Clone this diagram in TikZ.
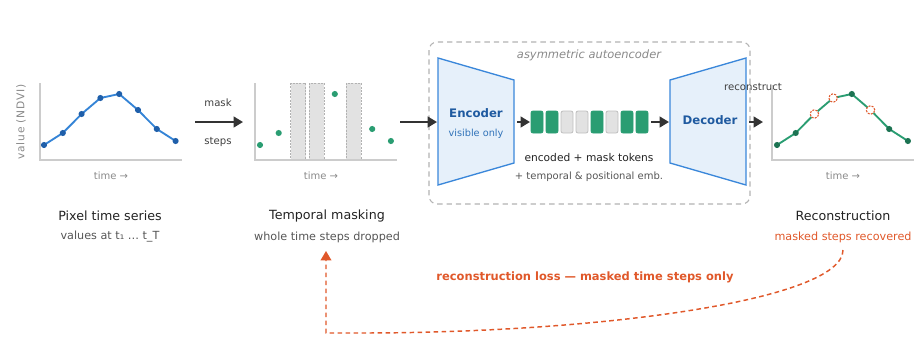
\documentclass[tikz,border=0pt]{standalone}
\usepackage{fontspec}
\setmainfont{DejaVu Sans}
\usetikzlibrary{arrows.meta}

\definecolor{ndviblue}{HTML}{3584D6}
\definecolor{dotblue}{HTML}{1F5FAA}
\definecolor{tokgreen}{HTML}{2A9D72}
\definecolor{dotgreen}{HTML}{1C7352}
\definecolor{lossorange}{HTML}{E0582A}
\definecolor{encfill}{HTML}{E6F0FA}
\definecolor{encedge}{HTML}{3A87DA}
\definecolor{enctext}{HTML}{1F5AA0}
\definecolor{axisgray}{HTML}{CCCCCC}
\definecolor{labelgray}{HTML}{8A8A8A}
\definecolor{maskgray}{HTML}{E2E2E2}
\definecolor{darktext}{HTML}{222222}
\definecolor{subtext}{HTML}{555555}

\begin{document}
\begin{tikzpicture}[x=0.75pt, y=-0.75pt, >={Triangle[length=7pt,width=8pt]},
    flow/.style={->, line width=1.5pt, draw=black!80},
    lossline/.style={->, lossorange, line width=1.1pt, dash pattern=on 3.5pt off 2.5pt},
    axisline/.style={axisgray, line width=0.8pt},
    caption/.style={text=darktext, font=\fontsize{9.5}{11}\selectfont},
    subcap/.style={text=subtext, font=\fontsize{8.4}{10}\selectfont},
    timelab/.style={text=labelgray, font=\fontsize{7.5}{9}\selectfont},
    smalllab/.style={text=black!75, font=\fontsize{7.6}{9}\selectfont},
    token/.style={rounded corners=1.5pt, line width=0.6pt},
    codec/.style={fill=encfill, draw=encedge, line width=1pt}]
  \useasboundingbox (0,0) rectangle (924,351);
  \def\ndvivals{145,133,114,98,94,110,129,141}

  % Pixel time series
  \draw[axisline] (40,83) -- (40,160) -- (182,160);
  \foreach \v [count=\i] in \ndvivals
    \coordinate (a\i) at ({44+18.8*(\i-1)},\v);
  \draw[ndviblue, line width=1.4pt] (a1) \foreach \i in {2,...,8} {-- (a\i)};
  \foreach \i in {1,...,8} \fill[dotblue] (a\i) circle (2.3pt);
  \node[rotate=90, text=labelgray, font=\fontsize{8}{9}\selectfont\addfontfeature{LetterSpace=8}] (ndvi) at (21,122) {value (NDVI)};
  \node[timelab] (time1) at (111,176) {time →};
  \node[caption] (seriescap) at (110,216) {Pixel time series};
  \node[subcap] (seriessub) at (110,237) {values at t₁ … t\_T};

  % mask step arrow
  \coordinate (s1out) at (195,122);
  \coordinate (s2in) at (243,122);
  \draw[flow] (s1out) -- (s2in);
  \node[smalllab] (masklab) at (218,103) {mask};
  \node[smalllab] (stepslab) at (218,142) {steps};

  % Temporal masking
  \foreach \c in {298,316.5,353.5}
    \draw[fill=maskgray, draw=black!30, line width=0.5pt, dash pattern=on 1.5pt off 1pt]
      ({\c-7.5},83) rectangle ({\c+7.5},160);
  \draw[axisline] (255,83) -- (255,160) -- (397,160);
  \foreach \v [count=\i] in \ndvivals
    \coordinate (m\i) at ({260+18.7*(\i-1)},\v);
  \foreach \i in {1,2,5,7,8} \fill[tokgreen] (m\i) circle (2.3pt);
  \node[timelab] (time2) at (321,176) {time →};
  \node[caption] (maskcap) at (327,216) {Temporal masking};
  \node[subcap] (masksub) at (327,237) {whole time steps dropped};

  % asymmetric autoencoder
  \draw[black!30, line width=0.8pt, dash pattern=on 4pt off 3pt, rounded corners=6pt]
    (429,42) rectangle (750,204);
  \node[text=labelgray, font=\fontsize{8.6}{10}\selectfont\itshape] (aelab) at (589,55) {asymmetric autoencoder};
  \coordinate (s2out) at (400,122);
  \coordinate (encin) at (437,122);
  \draw[flow] (s2out) -- (encin);

  \draw[codec] (438,58) -- (514,80) -- (514,163) -- (438,185) -- cycle;
  \node[text=enctext, font=\fontsize{8.8}{10}\selectfont\bfseries] (enc) at (476,113) {Encoder};
  \node[text=encedge!85!black, font=\fontsize{7.3}{9}\selectfont] (encsub) at (476,134) {visible only};

  % tokens
  \coordinate (encout) at (517,122);
  \coordinate (tokin) at (530,122);
  \draw[flow] (encout) -- (tokin);
  \foreach \k [count=\i] in {1,1,0,0,1,0,1,1} {
    \ifnum\k=1
      \draw[token, fill=tokgreen, draw=tokgreen] ({531+15*(\i-1)},111) rectangle ({543+15*(\i-1)},133);
    \else
      \draw[token, fill=maskgray, draw=black!25] ({531+15*(\i-1)},111) rectangle ({543+15*(\i-1)},133);
    \fi
  }
  \node[text=darktext, font=\fontsize{8}{9}\selectfont] (toklab) at (589,158) {encoded + mask tokens};
  \node[text=subtext, font=\fontsize{7.5}{9}\selectfont] (embl) at (589,177) {+ temporal \& positional emb.};

  \coordinate (tokout) at (651,122);
  \coordinate (decin) at (669,122);
  \draw[flow] (tokout) -- (decin);
  \draw[codec] (670,80) -- (746,58) -- (746,185) -- (670,163) -- cycle;
  \node[text=enctext, font=\fontsize{8.8}{10}\selectfont\bfseries] (dec) at (710,120) {Decoder};

  % Reconstruction
  \coordinate (decout) at (749,122);
  \coordinate (s4in) at (763,122);
  \draw[flow] (decout) -- (s4in);
  \node[smalllab] (reclab) at (753,87) {reconstruct};
  \draw[axisline] (772,85) -- (772,160) -- (914,160);
  \foreach \v [count=\i] in \ndvivals
    \coordinate (r\i) at ({777+18.7*(\i-1)},\v);
  \draw[tokgreen, line width=1.4pt] (r1) \foreach \i in {2,...,8} {-- (r\i)};
  \foreach \i in {1,2,5,7,8} \fill[dotgreen] (r\i) circle (2.3pt);
  \foreach \i in {3,4,6}
    \draw[fill=white, draw=lossorange, line width=0.8pt, dash pattern=on 1.5pt off 1pt] (r\i) circle (3.2pt);
  \node[timelab] (time4) at (843,176) {time →};
  \node[caption] (reccap) at (843,216) {Reconstruction};
  \node[subcap, text=lossorange] (recsub) at (843,237) {masked steps recovered};

  % loss path
  \coordinate (lossfrom) at (843,250);
  \coordinate (lossto) at (326,251);
  \draw[lossline] (lossfrom) .. controls (843,300) and (600,333) .. (360,333) -- (326,333) -- (lossto);
  \node[text=lossorange, font=\fontsize{8.6}{10}\selectfont\bfseries] (losslab) at (585,277) {reconstruction loss — masked time steps only};
\end{tikzpicture}
\end{document}
